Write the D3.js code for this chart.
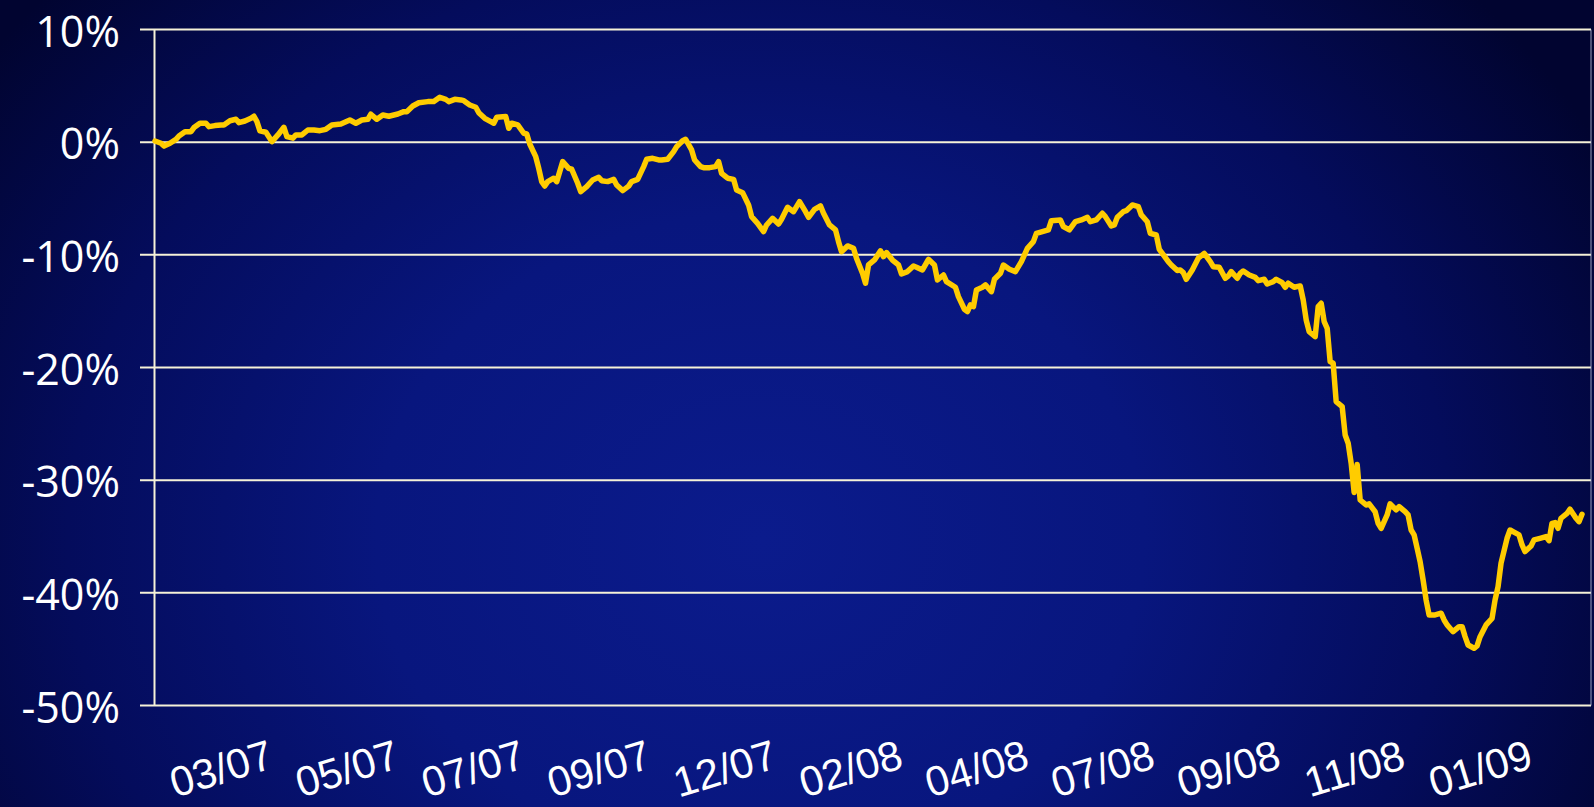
<!DOCTYPE html>
<html>
<head>
<meta charset="utf-8">
<script src="https://cdn.jsdelivr.net/npm/d3@7"></script>
<style>
  html, body { margin: 0; padding: 0; background: #020636; }
  svg { display: block; }
</style>
</head>
<body>
<svg id="chart" width="1594" height="807"></svg>
<script>
// ---- data (trading-day index, cumulative return in %) ----
const days = [0,2,3,5,7,8,10,12,13,15,17,18,20,22,23,25,27,28,30,32,33,34,35,37,39,41,43,44,46,47,49,51,53,55,57,59,62,65,67,69,71,72,74,76,78,81,83,84,86,88,91,93,95,97,98,100,102,103,105,107,108,110,112,113,114,117,118,119,121,123,124,125,127,128,129,130,131,133,134,136,138,139,141,142,144,146,148,149,151,153,154,156,158,159,161,163,164,166,168,169,171,173,174,176,177,179,180,182,183,185,187,188,189,191,193,194,196,198,199,201,203,204,206,208,209,211,213,215,217,218,220,222,223,225,227,228,229,231,233,234,236,237,238,240,242,243,244,246,248,249,251,253,254,256,258,260,261,263,264,267,268,270,271,272,273,274,276,277,279,280,282,283,285,287,289,291,293,294,296,298,299,302,303,305,307,309,311,312,314,316,317,319,320,321,323,324,326,328,329,331,332,334,335,336,338,339,341,342,343,344,346,348,350,352,353,355,357,358,359,361,362,363,365,367,368,370,371,373,374,376,377,378,380,382,383,384,385,387,388,389,390,391,392,393,394,396,397,398,399,400,401,402,404,405,407,408,409,411,412,414,415,417,418,419,420,421,422,423,424,425,427,429,430,431,433,435,436,437,438,440,441,442,444,446,447,448,449,451,452,453,455,456,457,459,460,462,464,465,466,467,468,469,471,472,474,475,476];
const pct = [0.1,-0.1,-0.35,-0.1,0.25,0.55,0.93,0.93,1.3,1.68,1.68,1.38,1.47,1.53,1.53,1.9,2.03,1.73,1.88,2.12,2.3,1.82,1.0,0.88,0.05,0.64,1.32,0.5,0.35,0.64,0.64,1.08,1.08,1.02,1.14,1.53,1.62,1.97,1.68,1.97,2.03,2.48,2.03,2.41,2.3,2.5,2.71,2.71,3.21,3.5,3.6,3.6,3.98,3.8,3.6,3.8,3.75,3.68,3.3,3.1,2.62,2.12,1.82,1.68,2.21,2.27,1.23,1.68,1.53,0.79,0.73,-0.16,-1.29,-2.32,-3.5,-3.89,-3.5,-3.2,-3.5,-1.73,-2.32,-2.4,-3.65,-4.39,-3.95,-3.36,-3.12,-3.42,-3.5,-3.3,-3.8,-4.3,-3.9,-3.5,-3.3,-2.17,-1.52,-1.43,-1.58,-1.58,-1.52,-0.84,-0.4,0.13,0.26,-0.69,-1.58,-2.17,-2.26,-2.26,-2.17,-1.73,-2.76,-3.2,-3.3,-4.24,-4.48,-5.57,-6.61,-7.2,-7.94,-7.35,-6.76,-7.26,-6.84,-5.78,-6.17,-5.28,-6.17,-6.67,-5.96,-5.66,-6.31,-7.35,-7.79,-8.83,-9.72,-9.21,-9.42,-10.3,-11.64,-12.52,-10.9,-10.45,-9.65,-10.16,-9.8,-10.46,-10.9,-11.7,-11.49,-10.99,-11.1,-11.34,-10.4,-10.9,-12.23,-11.79,-12.38,-12.88,-13.71,-14.83,-15.04,-14.45,-14.6,-13.12,-12.88,-12.67,-13.27,-12.17,-11.64,-10.9,-11.28,-11.49,-10.6,-9.42,-8.83,-8.09,-7.94,-7.79,-6.97,-6.9,-7.5,-7.79,-7.06,-6.9,-6.67,-7.06,-6.9,-6.31,-6.61,-7.44,-7.35,-6.67,-6.17,-6.08,-5.57,-5.72,-6.46,-7.06,-8.09,-8.24,-9.51,-9.87,-10.6,-10.9,-11.4,-11.34,-11.58,-12.17,-11.34,-10.3,-9.87,-10.6,-11.05,-11.1,-12.08,-11.88,-11.49,-12.08,-11.64,-11.43,-11.79,-12.0,-12.29,-12.17,-12.59,-12.38,-12.17,-12.47,-12.88,-12.52,-12.88,-12.76,-14.0,-15.78,-16.82,-17.26,-14.6,-14.3,-15.93,-16.52,-19.48,-19.62,-23.03,-23.47,-25.99,-26.72,-28.5,-31.1,-28.6,-31.76,-32.2,-32.1,-32.8,-33.83,-34.27,-33.09,-32.1,-32.64,-32.35,-32.8,-33.09,-34.42,-34.86,-36.04,-37.23,-38.86,-40.63,-41.96,-41.96,-41.81,-42.41,-42.85,-43.45,-43.0,-43.0,-43.89,-44.63,-44.92,-44.71,-43.89,-42.85,-42.26,-40.63,-39.45,-37.37,-35.16,-34.42,-34.57,-34.86,-35.75,-36.34,-35.84,-35.3,-35.16,-35.01,-35.37,-33.83,-33.77,-34.27,-33.38,-32.94,-32.58,-33.38,-33.68,-33.03];
const yTicks = [10, 0, -10, -20, -30, -40, -50];
const yTickLabels = ["10%", "0%", "-10%", "-20%", "-30%", "-40%", "-50%"];
const xTickDays = [22, 64, 106, 148, 190, 232, 274, 316, 358, 400, 442];
const xTickLabels = ["03/07", "05/07", "07/07", "09/07", "12/07", "02/08", "04/08", "07/08", "09/08", "11/08", "01/09"];

// ---- drawing ----
const svg = d3.select("#chart");
const W = 1594, H = 807;
const plot = { left: 154.5, right: 1591, top: 29.5, bottom: 705.5 };

const defs = svg.append("defs");
const rg = defs.append("radialGradient").attr("id", "bg")
  .attr("gradientUnits", "userSpaceOnUse")
  .attr("cx", 760).attr("cy", 540).attr("r", 960)
  .attr("gradientTransform", "translate(760,540) scale(1,0.85) translate(-760,-540)");
rg.append("stop").attr("offset", "0%").attr("stop-color", "#0b1b8c");
rg.append("stop").attr("offset", "40%").attr("stop-color", "#08167e");
rg.append("stop").attr("offset", "72%").attr("stop-color", "#040c5c");
rg.append("stop").attr("offset", "100%").attr("stop-color", "#010430");
svg.append("rect").attr("width", W).attr("height", H).attr("fill", "url(#bg)");

const x = d3.scaleLinear().domain([0, 476]).range([155, 1582]);
const y = d3.scaleLinear().domain([-50, 10]).range([plot.bottom, plot.top]);

const gridColor = "#f6f2d8";

// gridlines + tick stubs
svg.append("g").selectAll("line").data(yTicks).join("line")
  .attr("x1", 140).attr("x2", plot.right)
  .attr("y1", d => y(d)).attr("y2", d => y(d))
  .attr("stroke", gridColor).attr("stroke-width", 2);

// right border
svg.append("line")
  .attr("x1", plot.right).attr("x2", plot.right)
  .attr("y1", plot.top).attr("y2", plot.bottom)
  .attr("stroke", "#b8bcd8").attr("stroke-width", 1.2).attr("opacity", 0.7);

// y axis line
svg.append("line")
  .attr("x1", plot.left).attr("x2", plot.left)
  .attr("y1", plot.top).attr("y2", plot.bottom)
  .attr("stroke", gridColor).attr("stroke-width", 2);

// y labels
svg.append("g").selectAll("text").data(yTicks).join("text")
  .attr("x", 120).attr("y", d => y(d))
  .attr("dy", "0.4em")
  .attr("text-anchor", "end")
  .attr("fill", "#ffffff")
  .style("font-family", "'Open Sans', 'Liberation Sans', sans-serif")
  .style("font-size", "43px")
  .style("font-weight", "500")
  .text((d, i) => yTickLabels[i]);

// x labels (rotated)
svg.append("g").selectAll("text").data(xTickDays).join("text")
  .attr("transform", d => `translate(${x(d)},768) rotate(-17)`)
  .attr("text-anchor", "middle")
  .attr("dy", "0.36em")
  .attr("fill", "#ffffff")
  .style("font-family", "'Liberation Sans Narrow', 'Liberation Sans', sans-serif")
  .style("font-size", "42px")
  .text((d, i) => xTickLabels[i]);

// series line
const pts = days.map((d, i) => [d, pct[i]]);
const line = d3.line().x(d => x(d[0])).y(d => y(d[1]));
svg.append("path").datum(pts)
  .attr("d", line)
  .attr("fill", "none")
  .attr("stroke", "#ffcc00")
  .attr("stroke-width", 5.5)
  .attr("stroke-linejoin", "round")
  .attr("stroke-linecap", "round");
</script>
</body>
</html>
